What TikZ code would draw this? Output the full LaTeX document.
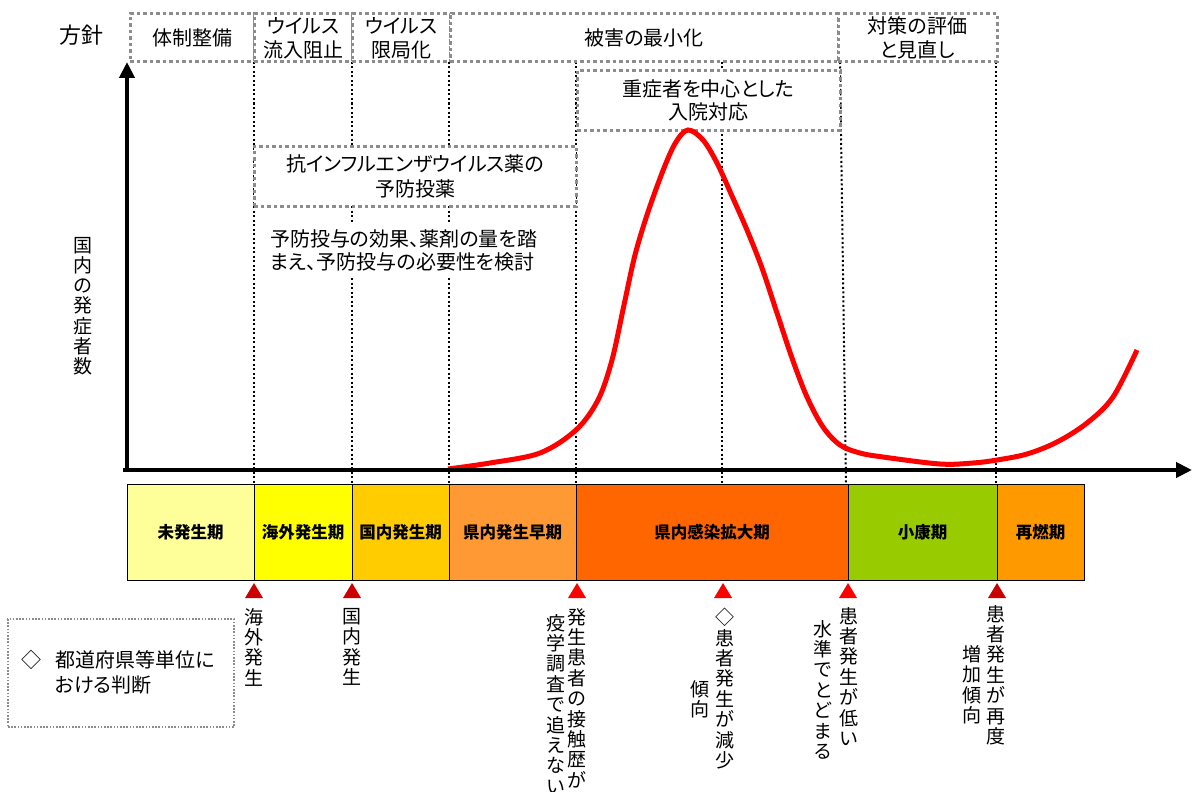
\documentclass[tikz,border=0pt]{standalone}
\usepackage{fontspec}
\setmainfont{Noto Sans CJK JP}[RawFeature=+palt]
\usetikzlibrary{arrows.meta}
\definecolor{dred}{HTML}{CC0000}
\definecolor{bred}{HTML}{FF0000}
\definecolor{c1}{HTML}{FFFF99}
\definecolor{c2}{HTML}{FFFF00}
\definecolor{c3}{HTML}{FFCC00}
\definecolor{c4}{HTML}{FF9933}
\definecolor{c5}{HTML}{FF6600}
\definecolor{c6}{HTML}{99CC00}
\definecolor{c7}{HTML}{FF9900}
\definecolor{dgray}{HTML}{8C8C8C}
\begin{document}
\begin{tikzpicture}[x=1pt,y=-1pt,
  txt/.style={font=\fontsize{20}{24}\selectfont, align=center, inner sep=0pt},
  hbox/.style={draw=dgray, line width=3pt, dash pattern=on 3.5pt off 3pt, fill=white,
     font=\fontsize{20}{24}\selectfont, align=center, inner sep=0pt},
  vline/.style={line width=2pt, dash pattern=on 2pt off 2.5pt},
  axis/.style={line width=4.5pt, -{Triangle[length=16pt,width=15pt]}},
  phase/.style={draw=black, line width=1pt, minimum height=96pt, inner sep=0pt,
     font=\fontsize{16.5}{18}\selectfont\bfseries},
  vlab/.style={font=\fontsize{19}{20.4}\selectfont, align=center, inner sep=0pt, anchor=north},
  curve/.style={draw=bred, line width=5pt}
]
\useasboundingbox (0,0) rectangle (1192,792);

% dotted vertical guides
\coordinate (ta) at (254,62);  \coordinate (ba) at (254,484);
\coordinate (tb) at (352,62);  \coordinate (bb) at (352,484);
\coordinate (tc) at (449,62);  \coordinate (bc) at (449,484);
\coordinate (td) at (576,62);  \coordinate (bd) at (576,484);
\coordinate (te) at (722,62);  \coordinate (be) at (722,484);
\coordinate (tf) at (840,62);  \coordinate (bf) at (846,484);
\coordinate (tg) at (996,62);  \coordinate (bg) at (996,484);
\foreach \n in {a,b,c,d,e,f,g} { \draw[vline] (t\n) -- (b\n); }

% header row
\node[txt, font=\fontsize{22}{26}\selectfont] (hoshin) at (81,35) {方針};
\node[hbox, minimum width=124pt, minimum height=48pt] (h1) at (192,38) {体制整備};
\node[hbox, minimum width=98pt, minimum height=48pt] (h2) at (303,38) {ウイルス\\流入阻止};
\node[hbox, minimum width=98pt, minimum height=48pt] (h3) at (401,38) {ウイルス\\限局化};
\node[hbox, minimum width=388pt, minimum height=48pt] (h4) at (644,38) {被害の最小化};
\node[hbox, minimum width=159pt, minimum height=48pt] (h5) at (917.5,38) {対策の評価\\と見直し};

% measure boxes
\node[hbox, font=\fontsize{20}{23}\selectfont, minimum width=263pt, minimum height=59pt] (jusho) at (708.5,100.5) {重症者を中心とした\\入院対応};
\node[hbox, font=\fontsize{20}{25}\selectfont, minimum width=322pt, minimum height=60pt] (kou) at (415,176) {抗インフルエンザウイルス薬の\\予防投薬};
\node[txt, fill=white, align=left, anchor=north west, inner xsep=8pt, inner ysep=7pt,
      font=\fontsize{20}{23}\selectfont] (yobo) at (262,222) {予防投与の効果、薬剤の量を踏\\まえ、予防投与の必要性を検討};

% y-axis label
\node[vlab, font=\fontsize{19}{20.2}\selectfont] (ylab) at (83,237) {国\\内\\の\\発\\症\\者\\数};

% curve
\draw[curve] plot[smooth, tension=0.55] coordinates {
 (448,469) (490,463) (540,453) (576,430) (598,400) (612,360) (624,305) (635,255)
 (648,212) (664,168) (676,142) (688,130) (703,140) (717,163) (732,196) (747,230)
 (762,268) (777,313) (792,358) (807,397) (823,427) (840,445) (860,453)
 (883,457) (940,464) (973,463) (997,460) (1027,454) (1057,442) (1087,423) (1113,397) (1137,350)};

% axes
\coordinate (o) at (127,470);
\coordinate (ytop) at (127,62);
\coordinate (xl) at (123,470);
\coordinate (xr) at (1192,470);
\draw[axis] (o) -- (ytop);
\draw[axis] (xl) -- (xr);

% phase bar
\node[phase, fill=c1, minimum width=127pt] (p1) at (190.5,532) {未発生期};
\node[phase, fill=c2, minimum width=98pt]  (p2) at (303,532) {海外発生期};
\node[phase, fill=c3, minimum width=97pt]  (p3) at (400.5,532) {国内発生期};
\node[phase, fill=c4, minimum width=127pt] (p4) at (512.5,532) {県内発生早期};
\node[phase, fill=c5, minimum width=272pt] (p5) at (712,532) {県内感染拡大期};
\node[phase, fill=c6, minimum width=149pt] (p6) at (922.5,532) {小康期};
\node[phase, fill=c7, minimum width=87pt]  (p7) at (1040.5,532) {再燃期};

% triangles
\foreach \x/\c in {254/dred, 352/dred, 577/bred, 723/bred, 848/bred, 997/dred} {
  \fill[\c] (\x,583) -- (\x+9,598) -- (\x-9,598) -- cycle;
}

% vertical labels
\node[vlab] (l1) at (254,608) {海\\外\\発\\生};
\node[vlab] (l2) at (352,608) {国\\内\\発\\生};
\node[vlab] (l3a) at (577,608) {発\\生\\患\\者\\の\\接\\触\\歴\\が};
\node[vlab] (l3b) at (556,614) {疫\\学\\調\\査\\で\\追\\え\\な\\い};
\node[vlab] (l4a) at (725,608) {◇\\患\\者\\発\\生\\が\\減\\少};
\node[vlab] (l4b) at (700,680) {傾\\向};
\node[vlab] (l5a) at (849,607) {患\\者\\発\\生\\が\\低\\い};
\node[vlab] (l5b) at (823,620) {水\\準\\で\\と\\ど\\ま\\る};
\node[vlab] (l6a) at (996,605) {患\\者\\発\\生\\が\\再\\度};
\node[vlab] (l6b) at (972,645) {増\\加\\傾\\向};

% legend
\node[draw=dgray, line width=1.6pt, dash pattern=on 1.6pt off 1.6pt, minimum width=226pt, minimum height=108pt] (leg) at (121,673) {};
\node[txt] (diamond) at (31,660) {◇};
\node[txt, align=left, anchor=west, font=\fontsize{20}{25}\selectfont] (legtxt) at (55,672) {都道府県等単位に\\おける判断};
\end{tikzpicture}
\end{document}
